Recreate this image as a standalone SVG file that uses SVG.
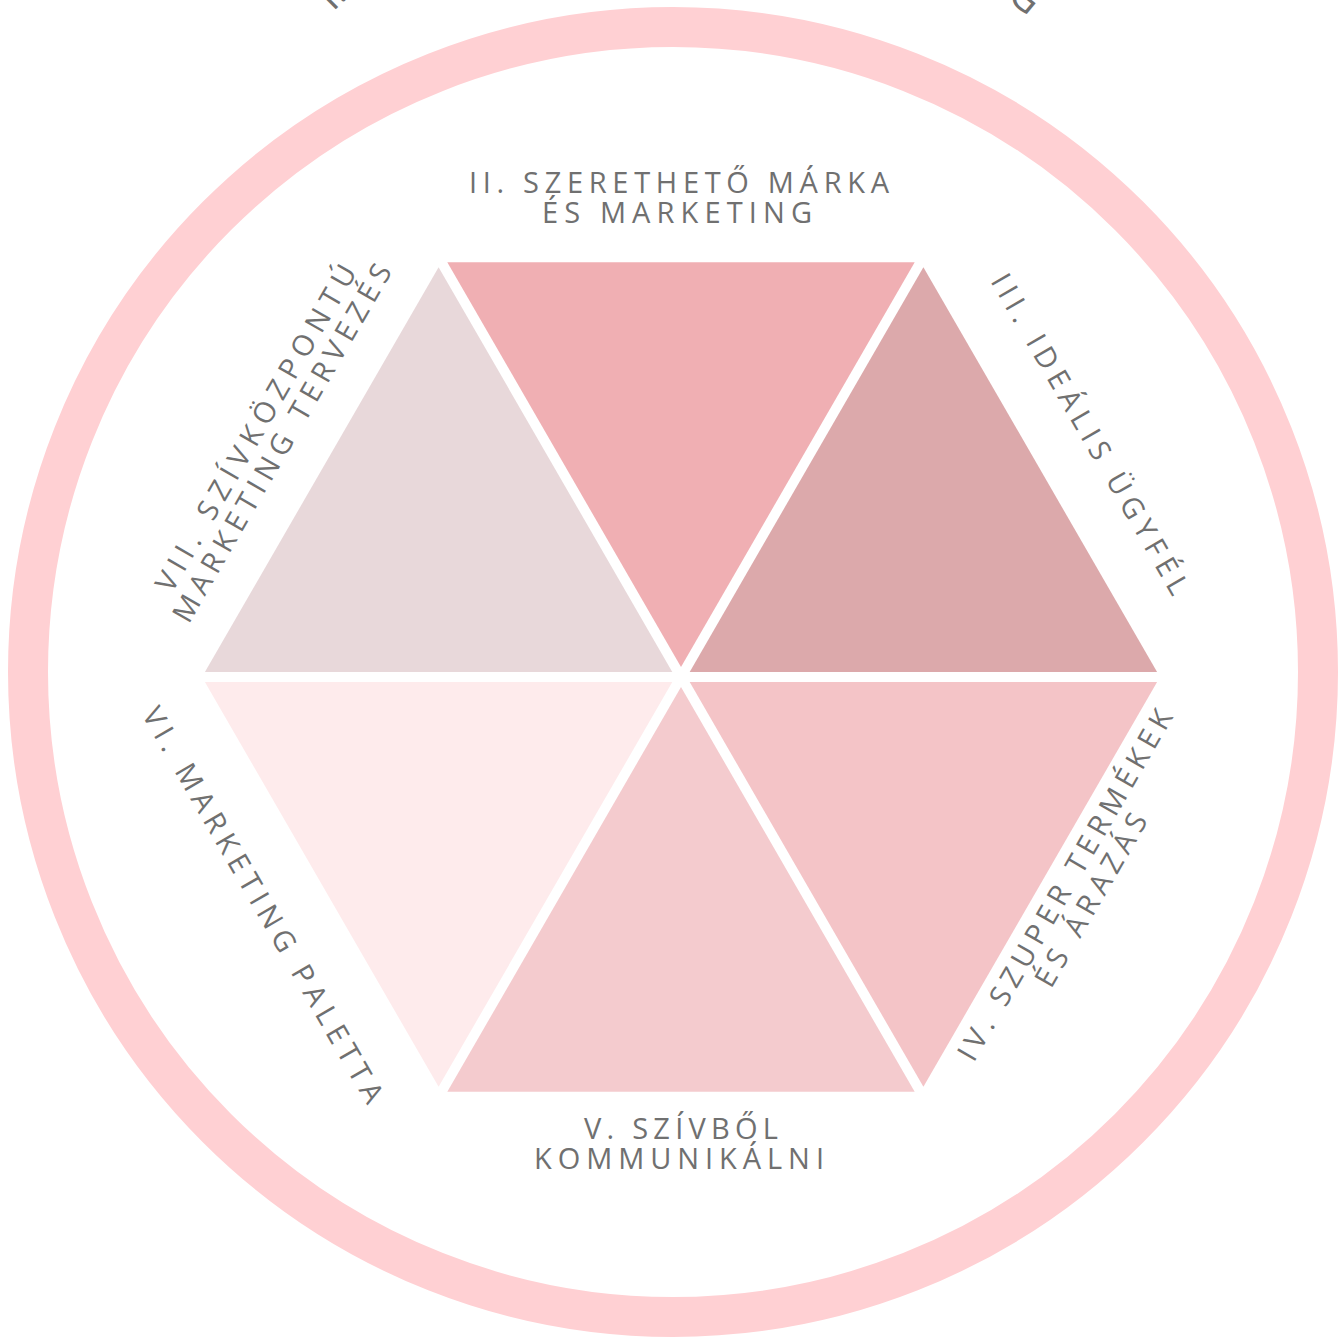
<svg xmlns="http://www.w3.org/2000/svg" width="1342" height="1337" viewBox="0 0 1342 1337">
<style>
.lbl{font-family:"Open Sans","Noto Sans","Liberation Sans",sans-serif;font-size:29px;fill:#707070;text-anchor:middle}
.frag{font-family:"Open Sans","Noto Sans","Liberation Sans",sans-serif;font-size:40px;fill:#707070}
</style>
<rect x="0" y="0" width="1342" height="1337" fill="#ffffff"/>
<g id="ring">
<circle cx="673" cy="672" r="645" fill="none" stroke="#FFD0D3" stroke-width="40"/>
</g>
<g id="ring-title">
<text class="frag" transform="translate(333,12) rotate(-45)">I.</text>
<text class="frag" transform="translate(1006,-2) rotate(40)">G</text>
</g>
<g id="node-II">
<polygon points="681,667 447.3,262.2 914.7,262.2" fill="#F0AFB3"/>
<text class="lbl" x="679" y="193" textLength="420" lengthAdjust="spacing">II. SZERETHETŐ MÁRKA</text>
<text class="lbl" x="677" y="223" textLength="270" lengthAdjust="spacing">ÉS MARKETING</text>
</g>
<g id="node-III">
<polygon points="689.7,672 923.4,267.2 1157.1,672" fill="#DCA9AB"/>
<text class="lbl" transform="translate(1090,434) rotate(60)" x="0" y="10" textLength="365" lengthAdjust="spacing">III. IDEÁLIS ÜGYFÉL</text>
</g>
<g id="node-IV">
<polygon points="689.7,682 1157.1,682 923.4,1086.8" fill="#F4C4C7"/>
<g transform="translate(1065,885) rotate(-60)">
<text class="lbl" x="0" y="10" textLength="400" lengthAdjust="spacing">IV. SZUPER TERMÉKEK</text>
<text class="lbl" x="0" y="40" textLength="195" lengthAdjust="spacing">ÉS ÁRAZÁS</text>
</g>
</g>
<g id="node-V">
<polygon points="681,687 914.7,1091.8 447.3,1091.8" fill="#F4CBCE"/>
<text class="lbl" x="681" y="1139" textLength="194" lengthAdjust="spacing">V. SZÍVBŐL</text>
<text class="lbl" x="679" y="1169" textLength="290" lengthAdjust="spacing">KOMMUNIKÁLNI</text>
</g>
<g id="node-VI">
<polygon points="672.3,682 438.6,1086.8 204.9,682" fill="#FEEBEC"/>
<text class="lbl" transform="translate(263,905) rotate(60)" x="0" y="10" textLength="452" lengthAdjust="spacing">VI. MARKETING PALETTA</text>
</g>
<g id="node-VII">
<polygon points="672.3,672 204.9,672 438.6,267.2" fill="#E8D8DA"/>
<g transform="translate(256,428) rotate(-60)">
<text class="lbl" x="0" y="10" textLength="372" lengthAdjust="spacing">VII. SZÍVKÖZPONTÚ</text>
<text class="lbl" x="0" y="40" textLength="408" lengthAdjust="spacing">MARKETING TERVEZÉS</text>
</g>
</g>
<g id="connectors"></g>
</svg>
